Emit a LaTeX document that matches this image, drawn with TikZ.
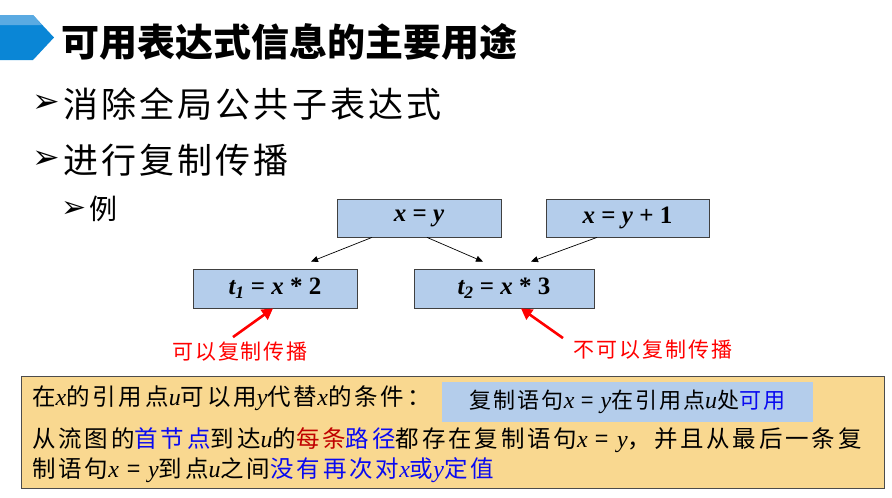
\documentclass[tikz,border=0pt]{standalone}
\usepackage{fontspec}
\setmainfont{Noto Sans CJK SC}
\newfontfamily\tms{Liberation Serif}
\newfontfamily\sym{DejaVu Sans}
\newfontfamily\kai[LetterSpace=9]{Noto Sans CJK SC}
\newfontfamily\kaiwide[LetterSpace=12]{Noto Sans CJK SC}
\usetikzlibrary{arrows.meta,positioning}

\definecolor{bannerblue}{HTML}{0A86D6}
\definecolor{bannerlight}{HTML}{5AAAE2}
\definecolor{stmtfill}{HTML}{B4CDEB}
\definecolor{condfill}{HTML}{F9D890}
\definecolor{textblue}{HTML}{0A0AF0}
\definecolor{textdarkred}{HTML}{C00000}

\newcommand{\mv}[1]{{\tms\itshape\fontsize{24}{26}\selectfont #1}}
\newcommand{\bv}[1]{{\tms\bfseries\itshape #1}}

\begin{document}
\begin{tikzpicture}[x=1pt, y=-1pt,
    stmtnode/.style={draw=black!75, fill=stmtfill, line width=0.8pt, minimum height=38pt, inner sep=0pt, font=\tms\bfseries\fontsize{25}{30}\selectfont},
    flow/.style={-{Triangle[length=7pt,width=6pt]}, line width=0.7pt},
    hint/.style={-{Triangle[length=11pt,width=12pt]}, red, line width=2.6pt},
    hintlabel/.style={red, inner sep=0pt, font=\kai\fontsize{21}{24}\selectfont},
    bullet/.style={inner sep=0pt, font=\sym\bfseries\fontsize{33}{36}\selectfont},
    itemtext/.style={inner sep=0pt, font=\kai\fontsize{35}{40}\selectfont},
    condline/.style={anchor=west, inner sep=0pt, font=\kaiwide\fontsize{23.5}{26}\selectfont},
    ]
\useasboundingbox (0,0) rectangle (892,498);

% Title
\fill[bannerblue] (0,15) -- (33,15) -- (54,37.5) -- (33,60) -- (0,60) -- cycle;
\fill[bannerlight] (0,15) -- (33,15) -- (42,25) -- (0,25) -- cycle;
\node[anchor=west, inner sep=0pt, font=\bfseries\fontsize{38}{42}\selectfont] (title) at (61,42) {可用表达式信息的主要用途};

% Bullets
\node[bullet, anchor=west] (b1) at (32,104) {➢};
\node[itemtext, anchor=west] (b1t) at (63,104) {消除全局公共子表达式};
\node[bullet, anchor=west] (b2) at (32,160) {➢};
\node[itemtext, anchor=west] (b2t) at (63,160) {进行复制传播};
\node[bullet, anchor=west, font=\sym\bfseries\fontsize{30}{33}\selectfont] (b3) at (61,209) {➢};
\node[itemtext, anchor=west, font=\kai\fontsize{28}{32}\selectfont] (b3t) at (89,209) {例};

% Statements
\node[stmtnode, minimum width=164pt] (s1) at (419,218) {\bv{x} = \bv{y}};
\node[stmtnode, minimum width=163pt] (s2) at (627.5,218) {\bv{x} = \bv{y} + 1};
\node[stmtnode, minimum width=164pt, minimum height=39pt] (t1) at (275,288.5) {\bv{t\textsubscript{1}} = \bv{x} * 2};
\node[stmtnode, minimum width=180pt, minimum height=39pt] (t2) at (504,288.5) {\bv{t\textsubscript{2}} = \bv{x} * 3};

\draw[flow] ([xshift=-47pt]s1.south) -- ([xshift=36pt,yshift=7pt]t1.north);
\draw[flow] ([xshift=8pt]s1.south) -- ([xshift=-21pt,yshift=7pt]t2.north);
\draw[flow] ([xshift=-30.5pt]s2.south) -- ([xshift=27pt,yshift=7pt]t2.north);

% Hints
\node[hintlabel] (lab1) at (240,352) {可以复制传播};
\node[hintlabel] (lab2) at (653,350) {不可以复制传播};
\draw[hint] ([xshift=-7pt,yshift=5pt]lab1.north) -- ([xshift=-2pt]t1.south);
\draw[hint] ([xshift=-90pt,yshift=2pt]lab2.north) -- ([xshift=17pt]t2.south);

% Condition
\node[draw=black!70, fill=condfill, line width=1pt, minimum width=863pt, minimum height=112pt, inner sep=0pt] (cond) at (452.5,432) {};
\node[fill=stmtfill, minimum width=371pt, minimum height=40pt, inner sep=0pt, font=\kai\fontsize{22}{26}\selectfont] (avail) at (627.5,402) {复制语句\mv{x} = \mv{y}在引用点\mv{u}处\textcolor{textblue}{可用}};
\node[condline] (c1) at (32,398) {在\mv{x}的引用点\mv{u}可以用\mv{y}代替\mv{x}的条件：};
\node[condline] (c2) at (32,440) {从流图的\textcolor{textblue}{首节点}到达\mv{u}的\textcolor{textdarkred}{每条}\textcolor{textblue}{路径}都存在复制语句\mv{x} = \mv{y}，并且从最后一条复};
\node[condline] (c3) at (32,470) {制语句\mv{x} = \mv{y}到点\mv{u}之间\textcolor{textblue}{没有再次对\mv{x}或\mv{y}定值}};

\end{tikzpicture}
\end{document}
